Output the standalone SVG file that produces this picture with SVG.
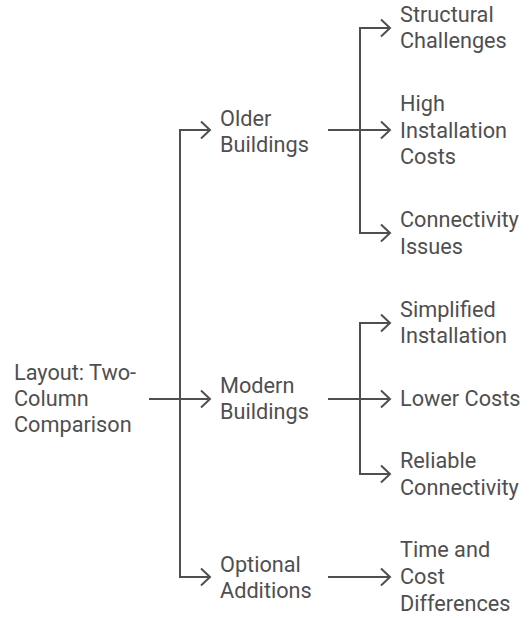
<svg xmlns="http://www.w3.org/2000/svg" width="531" height="618" viewBox="0 0 531 618">
<defs>
<style>
text{font-family:Roboto,"Liberation Sans",sans-serif;font-size:21.7px;fill:#4f4f4f}
.c{fill:none;stroke:#4f4f4f;stroke-width:2}
</style>
<marker id="a" viewBox="0 0 12 20" refX="10" refY="10" markerWidth="12" markerHeight="20" markerUnits="userSpaceOnUse" orient="auto">
<path d="M1,1.5 L10,10 L1,18.5" fill="none" stroke="#4f4f4f" stroke-width="2"/>
</marker>
</defs>
<rect width="531" height="618" fill="#fff"/>
<g id="connectors">
<path class="c" d="M149,399 H210" marker-end="url(#a)"/>
<path class="c" d="M210,130 H180 V577 H210" marker-end="url(#a)"/>
<path class="c" d="M180,130 H210" marker-end="url(#a)"/>
<path class="c" d="M328,130 H390" marker-end="url(#a)"/>
<path class="c" d="M390,28 H360 V233 H390" marker-end="url(#a)"/>
<path class="c" d="M360,28 H390" marker-end="url(#a)"/>
<path class="c" d="M328,399 H390" marker-end="url(#a)"/>
<path class="c" d="M390,323 H360 V474 H390" marker-end="url(#a)"/>
<path class="c" d="M360,323 H390" marker-end="url(#a)"/>
<path class="c" d="M328,577 H390" marker-end="url(#a)"/>
</g>
<g id="root"><text x="14" y="380">Layout: Two-</text><text x="14" y="406">Column</text><text x="14" y="432">Comparison</text></g>
<g id="older"><text x="220" y="126">Older</text><text x="220" y="152">Buildings</text></g>
<g id="modern"><text x="220" y="393">Modern</text><text x="220" y="419">Buildings</text></g>
<g id="optional"><text x="220" y="572">Optional</text><text x="220" y="598">Additions</text></g>
<g id="structural"><text x="400" y="22">Structural</text><text x="400" y="48">Challenges</text></g>
<g id="high"><text x="400" y="111">High</text><text x="400" y="138">Installation</text><text x="400" y="164">Costs</text></g>
<g id="connectivity"><text x="400" y="227">Connectivity</text><text x="400" y="254">Issues</text></g>
<g id="simplified"><text x="400" y="317">Simplified</text><text x="400" y="343">Installation</text></g>
<g id="lower"><text x="400" y="406">Lower Costs</text></g>
<g id="reliable"><text x="400" y="468">Reliable</text><text x="400" y="495">Connectivity</text></g>
<g id="time"><text x="400" y="557">Time and</text><text x="400" y="584">Cost</text><text x="400" y="611">Differences</text></g>
</svg>
